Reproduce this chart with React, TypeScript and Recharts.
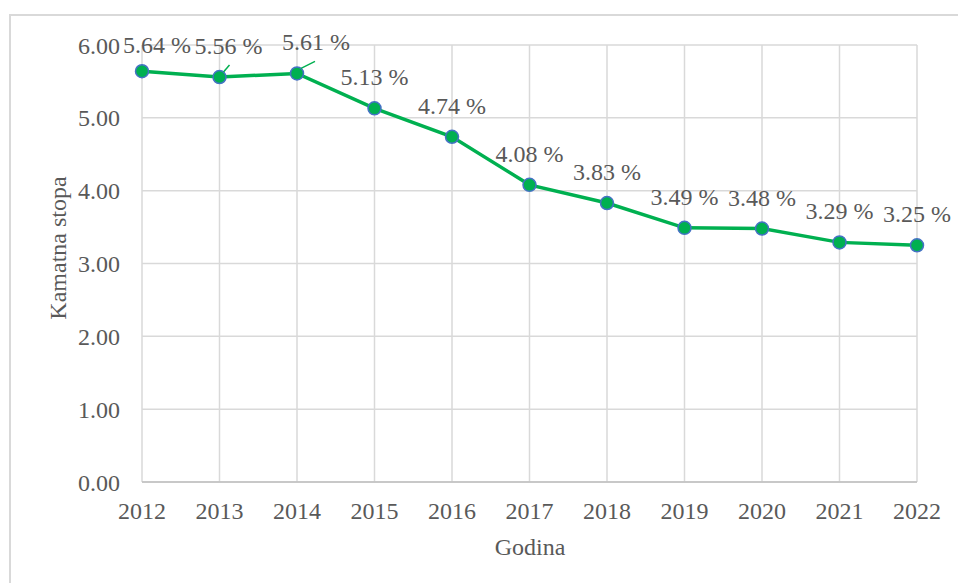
import { CartesianGrid, Customized, Line, LineChart, XAxis, YAxis } from "recharts";

const YEARS = ["2012", "2013", "2014", "2015", "2016", "2017", "2018", "2019", "2020", "2021", "2022"];
const RATES = [5.64, 5.56, 5.61, 5.13, 4.74, 4.08, 3.83, 3.49, 3.48, 3.29, 3.25];
const Y_TICKS = [0, 1, 2, 3, 4, 5, 6];

const FONT = '"Liberation Serif", "Times New Roman", serif';
const FS = 24;
const TEXT = "#595959";
const GREEN = "#00b050";

// excel-style label nudges: [dx, dy, leader]
const NUDGE: Record<number, [number, number, boolean]> = {
  0: [15, 5, false],
  1: [9, 0, true],
  2: [19, 0, true],
};

const rows = YEARS.map((year, i) => ({ year, rate: RATES[i] }));

function DataLabel(props: any) {
  const { x, y, value, index } = props;
  const [dx, dy, leader] = NUDGE[index] ?? [0, 0, false];
  const bx = x + dx;
  const by = y - 23 + dy;
  return (
    <g>
      {leader && <line x1={x + 4} y1={y - 5} x2={bx + (index === 1 ? 1 : -1)} y2={by + 11} stroke={GREEN} strokeWidth={1.5} />}
      <text x={bx} y={by} textAnchor="middle" fill={TEXT} style={{ fontSize: FS, fontFamily: FONT }}>
        {`${Number(value).toFixed(2)} %`}
      </text>
    </g>
  );
}

function Titles() {
  return (
    <g fill={TEXT} style={{ fontSize: FS, fontFamily: FONT }}>
      <text x={530} y={555} textAnchor="middle">Godina</text>
      <text x={66} y={248} textAnchor="middle" transform="rotate(-90 66 248)">Kamatna stopa</text>
    </g>
  );
}

const tickStyle = { fill: TEXT, fontSize: FS, fontFamily: FONT, style: { fontFamily: FONT } };

export default function App() {
  return (
    <div style={{ position: "fixed", left: 0, top: 0, width: 958, height: 583, background: "#fff", overflow: "hidden", fontFamily: FONT }}>
      <div style={{ position: "absolute", left: 9, top: 14, width: 1000, height: 1000, border: "2px solid #d9d9d9" }} />
      <div style={{ position: "absolute", left: 0, top: 0 }}>
        <LineChart width={958} height={583} data={rows} margin={{ top: 45, right: 41, bottom: 0, left: 0 }}>
          <CartesianGrid stroke="#d9d9d9" strokeWidth={1.5} />
          <XAxis
            dataKey="year"
            height={101}
            stroke="#bfbfbf"
            strokeWidth={1.5}
            tickLine={false}
            tickSize={0}
            tickMargin={20}
            interval={0}
            tick={tickStyle}
          />
          <YAxis
            width={142}
            domain={[0, 6]}
            ticks={Y_TICKS}
            axisLine={false}
            tickLine={false}
            tickSize={0}
            tickMargin={22}
            tickFormatter={(v) => Number(v).toFixed(2)}
            tick={tickStyle}
          />
          <Line
            dataKey="rate"
            type="linear"
            stroke={GREEN}
            strokeWidth={3.5}
            dot={{ r: 6.5, fill: GREEN, stroke: "#4472c4", strokeWidth: 1.5 }}
            label={(p: any) => <DataLabel key={p.index} {...p} />}
            isAnimationActive={false}
          />
          <Customized component={Titles} />
        </LineChart>
      </div>
    </div>
  );
}
